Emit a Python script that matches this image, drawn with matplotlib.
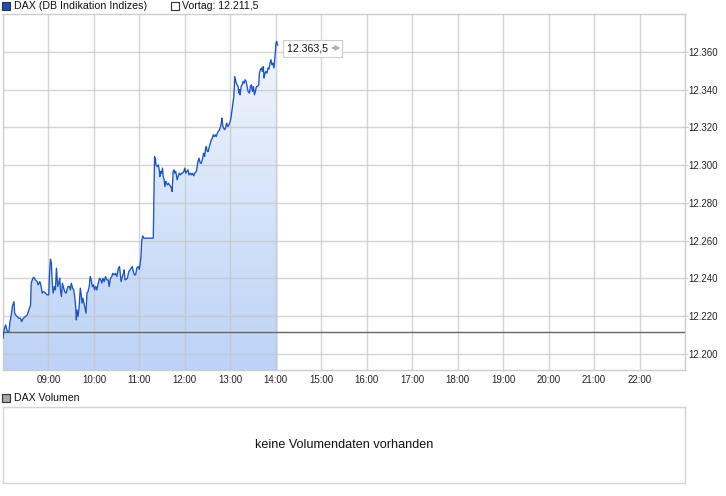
import numpy as np
import matplotlib
matplotlib.use("Agg")
import matplotlib.pyplot as plt
from matplotlib.patches import Rectangle
from matplotlib.colors import LinearSegmentedColormap
from matplotlib.transforms import offset_copy

plt.rcParams['font.family'] = ['Liberation Sans', 'DejaVu Sans']

# ---------------- data ----------------
series_name = "DAX (DB Indikation Indizes)"
prev_close = 12211.5
prev_label = "Vortag: 12.211,5"
last_label = "12.363,5"
volume_name = "DAX Volumen"
volume_note = "keine Volumendaten vorhanden"

# minutes after 08:00
minutes = [0.0, 1.4, 3.5, 5.7, 7.9, 9.2, 11.0, 12.3, 14.5, 15.4, 16.7, 18.9, 21.0, 23.2, 24.6, 26.7,
           29.8, 32.0, 34.2, 36.4, 37.2, 39.4, 40.7, 42.9, 45.1, 46.4, 48.6, 50.4, 51.7, 53.9, 56.1,
           58.3, 60.4, 61.3, 62.6, 63.9, 64.8, 66.1, 67.9, 69.2, 70.5, 72.2, 73.6, 74.9, 75.8, 77.1,
           78.4, 80.1, 81.4, 83.2, 84.5, 85.8, 87.6, 88.9, 90.2, 91.9, 93.3, 94.6, 95.9, 96.8, 97.6,
           99.0, 100.3, 102.0, 103.3, 104.2, 105.5, 106.4, 107.7, 109.5, 110.8, 112.1, 113.8, 115.1,
           116.5, 117.8, 119.5, 120.8, 122.5, 123.9, 125.2, 127.4, 129.1, 130.4, 131.8, 133.5, 135.3,
           137.0, 138.8, 140.1, 141.8, 143.6, 144.8, 146.6, 148.4, 150.2, 152.3, 153.7, 154.5, 155.8,
           157.6, 158.9, 159.8, 161.1, 162.4, 164.2, 165.9, 167.7, 169.0, 170.7, 172.0, 173.3, 175.1,
           176.4, 178.2, 179.9, 180.8, 182.1, 183.0, 184.3, 186.0, 198.3, 199.2, 200.0, 201.4, 201.8,
           203.5, 204.9, 206.2, 207.0, 207.9, 209.2, 210.5, 211.4, 212.7, 213.6, 214.9, 215.8, 217.1,
           218.4, 219.7, 221.0, 222.3, 223.2, 224.5, 225.8, 226.7, 228.0, 229.8, 231.1, 232.4, 234.2,
           235.5, 236.8, 238.6, 239.9, 241.2, 242.5, 244.2, 245.5, 247.3, 248.6, 249.9, 251.7, 253.0,
           255.1, 257.3, 258.6, 260.4, 261.7, 263.0, 264.8, 266.1, 267.4, 268.3, 269.6, 270.9, 271.8,
           273.6, 274.9, 276.2, 277.5, 278.8, 280.1, 281.4, 282.8, 284.1, 285.8, 287.1, 288.0, 288.9,
           290.2, 292.4, 293.7, 295.0, 296.8, 298.1, 299.8, 301.1, 302.0, 303.3, 304.6, 305.9, 306.8,
           307.7, 309.0, 310.3, 311.2, 312.1, 312.9, 314.3, 315.6, 316.9, 318.2, 319.5, 320.8, 322.1,
           323.4, 325.2, 326.5, 327.8, 329.1, 330.5, 331.8, 333.1, 334.4, 335.7, 337.5, 338.3, 339.7,
           341.0, 342.3, 343.6, 344.5, 345.8, 347.1, 348.4, 349.7, 351.0, 352.3, 353.6, 354.9, 356.2,
           357.6, 358.4, 359.3, 360.2, 361.1, 362.4]

values = [12208.3, 12212.7, 12215.4, 12211.8, 12211.8, 12217.1, 12220.7, 12225.1, 12227.7, 12221.6,
          12220.7, 12219.8, 12218.9, 12218.9, 12217.1, 12218.9, 12219.8, 12220.7, 12223.3, 12226.0,
          12237.5, 12240.1, 12240.6, 12239.2, 12238.3, 12236.6, 12238.3, 12235.7, 12232.2, 12233.0,
          12232.2, 12231.3, 12231.3, 12241.9, 12250.2, 12248.1, 12239.2, 12232.2, 12235.7, 12233.9,
          12245.4, 12235.7, 12237.5, 12240.1, 12233.9, 12230.4, 12237.5, 12234.8, 12233.0, 12232.2,
          12233.9, 12235.7, 12235.7, 12233.9, 12237.5, 12234.8, 12233.9, 12230.4, 12225.1, 12218.0,
          12223.3, 12219.8, 12224.2, 12234.8, 12231.3, 12226.9, 12229.5, 12227.7, 12225.1, 12221.6,
          12232.2, 12233.0, 12235.7, 12241.0, 12239.2, 12235.7, 12236.6, 12233.9, 12235.7, 12233.9,
          12236.6, 12240.1, 12239.2, 12237.5, 12240.1, 12238.3, 12241.0, 12239.2, 12239.2, 12235.7,
          12240.1, 12241.0, 12242.7, 12241.9, 12242.7, 12241.0, 12245.4, 12246.3, 12243.6, 12238.3,
          12241.0, 12242.7, 12244.5, 12239.2, 12239.5, 12240.1, 12243.6, 12244.5, 12245.4, 12246.3,
          12243.6, 12241.9, 12241.9, 12245.4, 12246.3, 12244.8, 12247.2, 12251.6, 12259.5, 12262.5,
          12261.3, 12261.3, 12282.5, 12304.5, 12302.8, 12300.1, 12299.2, 12300.1, 12297.5, 12293.9,
          12296.6, 12295.7, 12298.4, 12293.9, 12292.2, 12288.6, 12291.3, 12290.4, 12289.5, 12290.4,
          12289.5, 12288.6, 12287.8, 12286.0, 12296.6, 12297.5, 12295.7, 12296.6, 12292.2, 12293.9,
          12295.7, 12294.8, 12295.7, 12295.7, 12296.6, 12298.4, 12295.7, 12296.6, 12297.5, 12294.8,
          12295.7, 12294.8, 12295.7, 12294.3, 12295.7, 12296.6, 12301.9, 12303.7, 12301.0, 12301.0,
          12302.8, 12306.3, 12304.5, 12309.0, 12309.8, 12307.2, 12307.2, 12309.0, 12311.6, 12313.4,
          12314.3, 12316.0, 12315.1, 12316.0, 12315.1, 12316.9, 12317.8, 12318.7, 12320.4, 12322.2,
          12324.9, 12320.4, 12318.7, 12319.6, 12322.2, 12320.4, 12321.3, 12323.1, 12325.7, 12328.4,
          12331.9, 12336.3, 12346.9, 12345.2, 12343.4, 12342.5, 12341.6, 12338.1, 12339.9, 12337.2,
          12341.6, 12342.5, 12344.3, 12343.4, 12345.2, 12344.3, 12341.6, 12339.0, 12338.1, 12341.6,
          12342.5, 12339.0, 12341.6, 12337.2, 12339.0, 12341.6, 12341.6, 12342.5, 12348.7, 12350.5,
          12351.4, 12349.6, 12352.2, 12346.1, 12348.7, 12349.6, 12348.7, 12351.4, 12350.9, 12354.0,
          12355.8, 12353.1, 12354.0, 12351.4, 12354.9, 12359.3, 12364.6, 12365.5, 12363.5]

hour_ticks = list(range(9, 23))
y_ticks = [12200, 12220, 12240, 12260, 12280, 12300, 12320, 12340, 12360]

if len(minutes) != len(values):
    raise SystemExit(f"length mismatch {len(minutes)} vs {len(values)}")

# ---------------- figure ----------------
W, H = 726, 496
fig = plt.figure(figsize=(W / 100, H / 100), dpi=100)
fig.patch.set_facecolor('white')

def fbox(l, t, r, b):
    return [l / W, 1 - b / H, (r - l) / W, (b - t) / H]

ax = fig.add_axes(fbox(3, 14, 685, 370))
x = 8 + np.array(minutes) / 60.0
y = np.array(values)
ylo, yhi = 12191.5, 12380.0

# gradient fill under the line
poly = ax.fill_between(x, y, ylo, color='none', lw=0)
cmap = LinearSegmentedColormap.from_list('g', ['#bcd2f6', '#f5f8fe'])
grad = np.linspace(0, 1, 256).reshape(-1, 1)
im = ax.imshow(grad, extent=[x[0], x[-1], ylo, yhi], origin='lower', aspect='auto',
               cmap=cmap, zorder=1, interpolation='bilinear')
im.set_clip_path(poly.get_paths()[0], transform=ax.transData)

ax.plot(x, y, color='#1a55c2', lw=0.95, zorder=4)
ax.axhline(prev_close, color='#666666', lw=1.0, zorder=3)

ax.set_xlim(8, 23)
ax.set_ylim(ylo, yhi)

ax.set_xticks(hour_ticks)
ax.set_xticklabels([f"{h:02d}:00" for h in hour_ticks])
ax.set_yticks(y_ticks)
ax.set_yticklabels([f"{v:,.0f}".replace(',', '.') for v in y_ticks])
ax.yaxis.tick_right()
ax.tick_params(axis='x', length=0, pad=3.5, labelsize=7, labelcolor='#222222')
ax.tick_params(axis='y', direction='inout', length=4, width=0.8, color='#cccccc', pad=0.6,
               labelsize=7, labelcolor='#222222')
ax.grid(True, color='#c4c4c4', alpha=0.7, lw=1.0, zorder=2)
ax.set_axisbelow(False)
for g in ax.get_xgridlines() + ax.get_ygridlines():
    g.set_zorder(2)
for s in ax.spines.values():
    s.set_color('#cccccc')
    s.set_linewidth(1.0)

# last price label (box sized to include the arrow)
ax.annotate(last_label + "    ", xy=(x[-1], y[-1]), xytext=(6.5, -2.5),
            textcoords='offset points', ha='left', va='center', fontsize=7.6, color='#111111',
            bbox=dict(boxstyle='square,pad=0.3', fc='white', ec='#cccccc', lw=0.8), zorder=6)
arrow_anchor = offset_copy(ax.transData, fig=fig, x=45.3, y=-2.0, units='points')
ax.annotate('', xy=(x[-1], y[-1]), xycoords=arrow_anchor, xytext=(-5.8, 0),
            textcoords='offset points',
            arrowprops=dict(arrowstyle='-|>', color='#b0b0b0', lw=1.4, mutation_scale=6,
                            shrinkA=0, shrinkB=0), zorder=7)

# top legend
fig.patches.append(Rectangle((2 / W, 1 - 10 / H), 8 / W, 8 / H, transform=fig.transFigure,
                             fc='#1d4fb0', ec='#333333', lw=0.8))
fig.text(14 / W, 1 - 6 / H, series_name, ha='left', va='center', fontsize=7.7, color='#111111')
fig.patches.append(Rectangle((171 / W, 1 - 10 / H), 8 / W, 8 / H, transform=fig.transFigure,
                             fc='white', ec='#333333', lw=0.8))
fig.text(182 / W, 1 - 6 / H, prev_label, ha='left', va='center', fontsize=7.6, color='#111111')

# volume panel
fig.patches.append(Rectangle((2 / W, 1 - 402 / H), 8 / W, 8 / H, transform=fig.transFigure,
                             fc='#aaaaaa', ec='#333333', lw=0.8))
fig.text(14 / W, 1 - 398 / H, volume_name, ha='left', va='center', fontsize=7.6, color='#111111')
axv = fig.add_axes(fbox(3, 407, 685, 483))
axv.set_xticks([])
axv.set_yticks([])
for s in axv.spines.values():
    s.set_color('#d4d4d4')
    s.set_linewidth(1.0)
axv.text(0.5, 0.5, volume_note, transform=axv.transAxes, ha='center', va='center',
         fontsize=9.1, color='#111111')

fig.savefig('out.png', dpi=100, facecolor='white')
